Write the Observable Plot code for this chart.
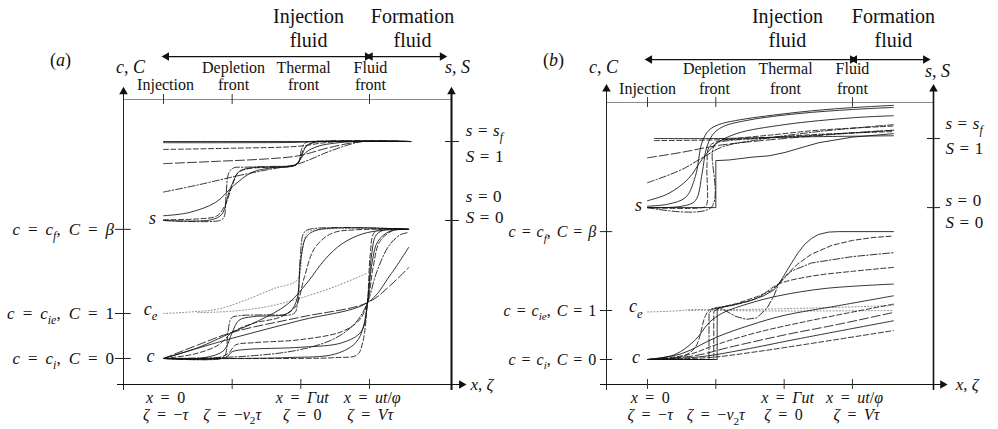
<!DOCTYPE html>
<html><head><meta charset="utf-8">
<script src="https://cdn.jsdelivr.net/npm/d3@7"></script>
<script src="https://cdn.jsdelivr.net/npm/@observablehq/plot@0.6"></script>
<style>
body{margin:0;background:#fff;}
#wrap{display:flex;width:998px;height:429px;overflow:visible;background:#fff;}
#wrap svg{overflow:visible;}
#wrap svg text, #wrap svg tspan{font-family:"Liberation Serif","Times New Roman","DejaVu Serif",serif !important;}
</style></head><body><div id="wrap"></div>
<script>
// ---------- data : panel (a) ----------
// x in units where 0 = injection point, 1 = depletion front, 2 = thermal front, 3 = fluid front
// s curves: S (0..1) ; c curves: C (0 .. beta)
const betaA = 2.87;
const sa1 = [[0,0],[0.82,0],[0.88,0.04],[0.91,0.3],[0.95,0.6],[1.02,0.665],[1.2,0.675],[1.6,0.685],[1.92,0.70],[1.97,0.74],[2.01,0.9],[2.06,0.98],[2.14,1.0],[3.6,1.0]];
const sa2 = [[0,0.01],[0.5,0.02],[0.78,0.06],[0.9,0.2],[1.0,0.44],[1.08,0.6],[1.2,0.65],[1.5,0.675],[1.92,0.70],[1.98,0.76],[2.04,0.9],[2.12,0.97],[2.3,1.0],[3.6,1.0]];
const sa3 = [[0,0.06],[0.37,0.1],[0.76,0.23],[1.02,0.44],[1.29,0.61],[1.6,0.67],[1.92,0.705],[2.07,0.86],[2.25,0.94],[2.5,0.98],[2.8,1.0],[3.6,1.0]];
const sa4 = [[0,0.36],[0.5,0.45],[1.05,0.56],[1.5,0.64],[1.97,0.72],[2.4,0.87],[2.7,0.96],[2.9,1.0],[3.6,1.0]];
const sa5 = [[0,0.72],[0.8,0.75],[1.5,0.78],[1.97,0.82],[2.4,0.92],[2.89,1.0],[3.6,1.0]];
const sa6 = [[0,0.90],[1.0,0.915],[1.97,0.94],[2.3,0.98],[2.6,1.0],[3.6,1.0]];
const sa7 = [[0,0.985],[1.0,0.985],[1.97,0.99],[2.2,1.0],[3.6,1.0]];
const sa8 = [[0,1.0],[3.6,1.0]];
const sa9 = [[0,0],[0.7,0.01],[0.85,0.08],[0.95,0.35],[1.02,0.5],[1.1,0.62],[1.3,0.67],[1.92,0.70],[2.0,0.8],[2.08,0.94],[2.2,0.99],[2.4,1.0],[3.6,1.0]];
const sCurvesA = [sa1, sa2, sa3, sa4, sa5, sa6, sa7, sa8, sa9];
const sStylesA = ["dashdot","dash","solid","dashdot","long","dash","solid","solid","solid"];

const ca1 = [[0,0],[0.84,0],[0.9,0.08],[0.94,0.6],[0.99,0.9],[1.1,0.95],[1.5,0.97],[1.9,1.0],[1.95,1.2],[1.99,2.2],[2.04,2.78],[2.12,2.87],[3.57,2.87]];
const ca2 = [[0,0],[0.6,0.02],[0.88,0.18],[1.0,0.58],[1.1,0.85],[1.3,0.93],[1.8,1.0],[1.93,1.25],[2.0,2.2],[2.08,2.7],[2.25,2.86],[3.57,2.87]];
const ca3 = [[0,0],[0.45,0.1],[0.8,0.3],[1.0,0.58],[1.3,0.78],[1.7,0.92],[1.92,1.15],[2.05,1.8],[2.2,2.45],[2.45,2.78],[2.8,2.86],[3.57,2.87]];
const ca4 = [[0,0],[0.5,0.24],[1.0,0.58],[1.4,0.85],[1.8,1.2],[2.1,1.7],[2.35,2.2],[2.6,2.55],[2.9,2.77],[3.2,2.85],[3.57,2.87]];
const cf1 = [[0,0],[1.5,0],[2.5,0.02],[2.82,0.08],[2.9,0.35],[2.97,1.24],[3.01,2.3],[3.06,2.78],[3.15,2.87],[3.57,2.87]];
const cf2 = [[0,0],[1.8,0.02],[2.5,0.1],[2.8,0.35],[2.91,0.7],[2.97,1.24],[3.04,2.15],[3.12,2.6],[3.3,2.83],[3.57,2.87]];
const cf3 = [[0,0],[1.2,0.05],[2.0,0.2],[2.5,0.45],[2.8,0.8],[2.97,1.24],[3.1,1.9],[3.28,2.5],[3.45,2.75],[3.57,2.8]];
const cf4 = [[0,0],[1.0,0.45],[2.0,0.85],[2.97,1.24],[3.3,1.85],[3.57,2.47]];
const cf5 = [[0,0],[0.5,0.3],[1.0,0.58],[2.0,0.92],[2.97,1.24],[3.3,1.62],[3.57,2.02]];
const cd1 = [[0,0],[0.8,0.02],[0.95,0.12],[1.05,0.3],[1.3,0.35],[2.0,0.42],[2.6,0.6],[2.85,0.85],[2.97,1.24],[3.05,2.0],[3.15,2.6],[3.35,2.85],[3.57,2.87]];
const cd2 = [[0,0],[0.9,0.02],[1.0,0.15],[1.2,0.2],[2.0,0.25],[2.6,0.35],[2.88,0.6],[2.97,1.24],[3.03,2.3],[3.1,2.75],[3.25,2.87],[3.57,2.87]];
const cCurvesA = [ca1, ca2, ca3, ca4, cf1, cf2, cf3, cf4, cf5, cd1, cd2];
const cStylesA = ["dashdot","solid","dash","solid","dash","solid","dashdot","solid","long","dash","solid"];
const ceA1 = [[0,1.0],[0.45,1.04],[0.8,1.1],[1.2,1.3],[1.6,1.55],[1.95,1.75],[2.02,2.4],[2.1,2.8],[2.3,2.87],[3.57,2.87]];
const ceA2 = [[0.5,1.02],[1.0,1.05],[1.5,1.15],[1.9,1.3],[2.5,1.6],[2.97,1.9]];
const ceCurvesA = [ceA1, ceA2];

// ---------- data : panel (b) ----------
const betaB = 2.61;
const sb1 = [[0,0],[1.0,0],[1.0,0.68],[1.2,0.69],[1.53,0.73],[1.78,0.75],[2.02,0.8],[2.26,0.87],[2.51,0.94],[3.0,1.02],[3.6,1.07]];
const sb2 = [[0,0],[0.8,0],[0.86,0.03],[0.87,0.6],[0.9,0.88],[1.0,0.95],[1.3,1.0],[1.8,1.05],[2.5,1.12],[3.6,1.18]];
const sb3 = [[0,0],[0.93,0],[0.95,0.8],[1.0,0.93],[1.2,0.97],[2.0,1.02],[3.6,1.12]];
const sb4 = [[0,0],[0.5,0.02],[0.7,0.1],[0.8,0.5],[0.86,0.85],[0.95,1.05],[1.1,1.17],[1.5,1.27],[2.2,1.36],[3.0,1.42],[3.6,1.45]];
const sb5 = [[0,0.02],[0.3,0.05],[0.56,0.15],[0.7,0.45],[0.8,0.95],[0.9,1.12],[1.04,1.2],[1.29,1.26],[2.02,1.36],[2.75,1.43],[3.6,1.48]];
const sb6 = [[0,0.1],[0.3,0.2],[0.6,0.42],[0.8,0.7],[1.0,0.92],[1.3,1.07],[2.0,1.2],[3.0,1.3],[3.6,1.33]];
const sb7 = [[0,0.36],[0.5,0.55],[0.85,0.75],[1.1,0.88],[1.6,0.98],[2.5,1.1],[3.6,1.2]];
const sb8 = [[0,0.72],[0.5,0.8],[1.04,0.9],[2.0,1.0],[3.0,1.08],[3.6,1.12]];
const sb9 = [[0.1,0.97],[1.0,0.98],[1.5,1.0],[2.5,1.06],[3.6,1.1]];
const sb10 = [[0.1,1.0],[1.04,1.0],[2.0,1.02],[3.6,1.04]];
const sCurvesB = [sb1, sb2, sb3, sb4, sb5, sb6, sb7, sb8, sb9, sb10];
const sStylesB = ["solid","dash","dashdot","solid","solid","solid","dashdot","long","dash","solid"];
const sLinearB = [true, false, false, false, false, false, false, false, false, false];

const cb1 = [[0,0],[1.02,0],[1.02,1.04],[1.15,1.08],[1.29,1.12],[1.5,1.2],[1.7,1.3],[1.85,1.42],[1.92,1.54],[2.0,1.72],[2.1,1.95],[2.2,2.17],[2.3,2.35],[2.4,2.47],[2.5,2.55],[2.65,2.6],[2.8,2.61],[3.6,2.61]];
const cb2 = [[0,0],[0.97,0],[0.97,0.98],[1.05,1.06],[1.3,1.14],[1.6,1.28],[1.8,1.4],[1.92,1.54],[2.05,1.75],[2.2,1.95],[2.4,2.15],[2.7,2.33],[3.0,2.43],[3.3,2.49],[3.6,2.52]];
const cb3 = [[0,0],[0.9,0],[0.9,0.95],[0.97,1.04],[1.1,1.03],[1.29,0.88],[1.45,0.82],[1.6,0.85],[1.75,1.05],[1.85,1.3],[1.92,1.54],[2.1,1.8],[2.4,1.97],[3.0,2.1],[3.6,2.18]];
const cb4 = [[0,0],[0.5,0.06],[0.7,0.25],[0.85,0.9],[0.92,1.02],[1.2,1.1],[1.6,1.25],[1.92,1.54],[2.4,1.7],[3.0,1.8],[3.6,1.88]];
const cb5 = [[0,0],[0.4,0.1],[0.7,0.4],[0.9,0.75],[1.1,0.95],[1.5,1.15],[1.92,1.3],[2.6,1.45],[3.6,1.54]];
const cb6 = [[0,0],[0.5,0.12],[1.0,0.45],[1.5,0.7],[2.0,0.9],[2.8,1.1],[3.6,1.30]];
const cb7 = [[0,0],[0.6,0.1],[1.0,0.3],[1.6,0.55],[2.4,0.8],[3.6,1.13]];
const cb8 = [[0,0],[0.7,0.08],[1.2,0.25],[2.0,0.5],[2.8,0.72],[3.6,0.96]];
const cb9 = [[0,0],[0.8,0.06],[1.4,0.2],[2.2,0.42],[3.6,0.79]];
const cb10 = [[0,0],[0.9,0.04],[1.6,0.16],[2.5,0.35],[3.6,0.59]];
const cCurvesB = [cb1, cb2, cb3, cb4, cb5, cb6, cb7, cb8, cb9, cb10];
const cStylesB = ["solid","dash","dashdot","dash","solid","solid","dash","long","solid","dash"];
const cLinearB = [true, true, true, false, false, false, false, false, false, false];
const ceB1 = [[0,0.97],[0.4,0.99],[0.68,1.02],[1.2,1.0],[2.0,0.99],[3.6,1.0]];
const ceB2 = [[0.6,1.0],[1.4,1.02],[2.4,1.05],[3.6,1.1]];
const ceCurvesB = [ceB1, ceB2];

// ---------- labels ----------
const frontTopA = ["Injection","Depletion","front","Thermal","front","Fluid","front"];
const bottomRow1 = ["x = 0","x = Γut","x = ut/φ"];
const bottomRow2 = ["ζ = −τ","ζ = −v_2τ","ζ = 0","ζ = Vτ"];
const leftLabels = ["c = c_f, C = β","c = c_{ie}, C = 1","c = c_i, C = 0"];
const rightLabels = ["s = s_f","S = 1","s = 0","S = 0"];

const DASH = {solid: null, dash: "5,2.5", long: "9,3", dashdot: "7,2,1.5,2", dot: "1,2.2"};
const FONT = "'Liberation Serif', 'Times New Roman', serif";

function buildPanel(P) {
  const ys = d => P.sZero + d[1] * (P.sOne - P.sZero);
  const yc = d => d[1];
  const m = [];
  // frame
  m.push(Plot.ruleY([P.yTop], {x1: P.xL, x2: P.xR, stroke: "#8c8c8c", strokeWidth: 1.2}));
  m.push(Plot.ruleX([P.xL], {y1: P.yBot, y2: P.yTip, stroke: "#222", strokeWidth: 1}));
  m.push(Plot.ruleX([P.xR], {y1: P.yBot, y2: P.yTip, stroke: "#111", strokeWidth: P.rightW}));
  m.push(Plot.ruleY([P.yAx], {x1: P.xAx0, x2: P.xAx1, stroke: "#111", strokeWidth: 1.1}));
  m.push(Plot.ruleX(P.topTicks, {y1: P.yTop - P.tk, y2: P.yTop + P.tk, stroke: "#333", strokeWidth: 1}));
  m.push(Plot.ruleX(P.botTicks, {y1: P.yAx - P.tk, y2: P.yAx + P.tk, stroke: "#333", strokeWidth: 1}));
  // level ticks
  m.push(Plot.ruleY([P.beta, 1, 0], {x1: P.xLt0, x2: P.xLt1, stroke: "#222"}));
  m.push(Plot.ruleY([P.sOne, P.sZero], {x1: P.xRt0, x2: P.xRt1, stroke: "#222"}));
  // arrows
  m.push(Plot.ruleY([P.yArr], {x1: P.arr[0], x2: P.arr[1], stroke: "#111", strokeWidth: 1.3}));
  m.push(Plot.ruleY([P.yArr], {x1: P.arr[2], x2: P.arr[3], stroke: "#111", strokeWidth: 1.3}));
  m.push(Plot.dot([[P.arr[0], P.yArr], [P.arr[2], P.yArr]], {x: d => d[0], y: d => d[1], symbol: "triangle", r: 3.2, fill: "#111", rotate: -90}));
  m.push(Plot.dot([[P.arr[1], P.yArr], [P.arr[3], P.yArr]], {x: d => d[0], y: d => d[1], symbol: "triangle", r: 3.2, fill: "#111", rotate: 90}));
  m.push(Plot.dot([[P.xL, P.yTip], [P.xR, P.yTip]], {x: d => d[0], y: d => d[1], symbol: "triangle", r: 3.2, fill: "#111"}));
  m.push(Plot.dot([[P.xAx1, P.yAx]], {x: d => d[0], y: d => d[1], symbol: "triangle", r: 3.2, fill: "#111", rotate: 90}));
  // curves
  P.ce.forEach(c => m.push(Plot.line(c, {x: d => d[0], y: yc, stroke: "#777", strokeWidth: 0.9, strokeDasharray: DASH.dot, curve: "catmull-rom"})));
  P.s.forEach((c, i) => m.push(Plot.line(c, {x: d => d[0], y: ys, stroke: "#111", strokeWidth: 0.85, strokeDasharray: DASH[P.sSt[i]], curve: (P.sLin && P.sLin[i]) ? "linear" : "catmull-rom"})));
  P.c.forEach((c, i) => m.push(Plot.line(c, {x: d => d[0], y: yc, stroke: "#111", strokeWidth: 0.85, strokeDasharray: DASH[P.cSt[i]], curve: (P.cLin && P.cLin[i]) ? "linear" : "catmull-rom"})));
  // text
  const T = (data, o) => Plot.text(data, {x: "x", y: "y", text: "t", fill: "#111", fontFamily: FONT, ...o});
  m.push(T(P.bigLab, {fontSize: 20}));
  m.push(T(P.frontLab, {fontSize: 16}));
  m.push(T(P.axLab, {fontSize: 18}));
  m.push(T(P.leftLab, {fontSize: P.leftFs, textAnchor: "end"}));
  m.push(T(P.rightLab, {fontSize: 17, textAnchor: "start"}));
  m.push(T(P.curveLab, {fontSize: 18}));
  m.push(T(P.botLab, {fontSize: 16}));
  m.push(T(P.xLab, {fontSize: 17, textAnchor: "start"}));
  return Plot.plot({
    width: 499, height: 429,
    marginLeft: P.mL, marginRight: P.mR, marginTop: P.mT, marginBottom: P.mB,
    x: {domain: [P.xL, P.xR], axis: null},
    y: {domain: [P.yAx, P.yTop], axis: null},
    style: {background: "transparent", overflow: "visible", fontFamily: FONT},
    marks: m
  });
}

// panel (a) geometry in data units
const PA = {
  mL: 123, mR: 48, mT: 99, mB: 45, leftFs: 17, leftWs: "0.22em",
  xL: -0.5825, xR: 4.194, yAx: -0.578, yTop: 5.756, yBot: -0.711, yTip: 5.93,
  xAx0: -0.67, xAx1: 4.34, rightW: 2, tk: 0.11,
  topTicks: [0, 1, 3], botTicks: [1, 2, 3],
  beta: betaA, sZero: 3.067, sOne: 4.822,
  xLt0: -0.70, xLt1: -0.47, xRt0: 4.107, xRt1: 4.31,
  yArr: 6.711, arr: [0.044, 2.97, 3.01, 4.06],
  s: sCurvesA, sSt: sStylesA, c: cCurvesA, cSt: cStylesA, ce: ceCurvesA,
  bigLab: [{t: "Injection", x: 2.112, y: 7.60}, {t: "fluid", x: 2.112, y: 7.067}, {t: "Formation", x: 3.626, y: 7.60}, {t: "fluid", x: 3.626, y: 7.067}],
  frontLab: [{t: frontTopA[0], x: 0.03, y: 6.07}, {t: frontTopA[1], x: 1.02, y: 6.46}, {t: frontTopA[2], x: 1.02, y: 6.07}, {t: frontTopA[3], x: 2.04, y: 6.46}, {t: frontTopA[4], x: 2.04, y: 6.07}, {t: frontTopA[5], x: 3.014, y: 6.46}, {t: frontTopA[6], x: 3.014, y: 6.07}],
  axLab: [{t: "(a)", x: -1.50, y: 6.62}, {t: "c, C", x: -0.48, y: 6.47}, {t: "s, S", x: 4.28, y: 6.47}],
  leftLab: [{t: leftLabels[0], x: -0.72, y: betaA}, {t: leftLabels[1], x: -0.72, y: 1}, {t: leftLabels[2], x: -0.72, y: 0}],
  rightLab: [{t: rightLabels[0], x: 4.40, y: 5.067}, {t: rightLabels[1], x: 4.40, y: 4.49}, {t: rightLabels[2], x: 4.40, y: 3.60}, {t: rightLabels[3], x: 4.40, y: 3.14}],
  curveLab: [{t: "s", x: -0.16, y: 3.12}, {t: "c_e", x: -0.19, y: 1.1}, {t: "c", x: -0.19, y: 0.04}],
  botLab: [{t: bottomRow1[0], x: 0.03, y: -0.867}, {t: bottomRow1[1], x: 2.02, y: -0.867}, {t: bottomRow1[2], x: 3.04, y: -0.867},
           {t: bottomRow2[0], x: 0.03, y: -1.244}, {t: bottomRow2[1], x: 1.0, y: -1.244}, {t: bottomRow2[2], x: 2.02, y: -1.244}, {t: bottomRow2[3], x: 3.01, y: -1.244}],
  xLab: [{t: "x, ζ", x: 4.47, y: -0.578}]
};

const PB = {
  mL: 107, mR: 65, mT: 102, mB: 45, leftFs: 16, leftWs: "0.12em",
  xL: -0.600, xR: 4.186, yAx: -0.510, yTop: 5.245, yBot: -0.633, yTip: 5.52,
  xAx0: -0.688, xAx1: 4.32, rightW: 1.6, tk: 0.1,
  topTicks: [0, 1, 3], botTicks: [0, 1, 2, 3],
  beta: betaB, sZero: 3.10, sOne: 4.51,
  xLt0: -0.69, xLt1: -0.51, xRt0: 4.098, xRt1: 4.288,
  yArr: 6.122, arr: [0.03, 3.0, 3.03, 4.07],
  s: sCurvesB, sSt: sStylesB, sLin: sLinearB, c: cCurvesB, cSt: cStylesB, cLin: cLinearB, ce: ceCurvesB,
  bigLab: [{t: "Injection", x: 2.049, y: 7.00}, {t: "fluid", x: 2.049, y: 6.51}, {t: "Formation", x: 3.60, y: 7.00}, {t: "fluid", x: 3.60, y: 6.51}],
  frontLab: [{t: frontTopA[0], x: 0.0, y: 5.53}, {t: frontTopA[1], x: 0.98, y: 5.93}, {t: frontTopA[2], x: 0.98, y: 5.53}, {t: frontTopA[3], x: 2.02, y: 5.93}, {t: frontTopA[4], x: 2.02, y: 5.53}, {t: frontTopA[5], x: 3.0, y: 5.93}, {t: frontTopA[6], x: 3.0, y: 5.53}],
  axLab: [{t: "(b)", x: -1.376, y: 6.10}, {t: "c, C", x: -0.644, y: 5.96}, {t: "s, S", x: 4.244, y: 5.88}],
  leftLab: [{t: leftLabels[0], x: -0.75, y: betaB}, {t: leftLabels[1], x: -0.75, y: 1}, {t: leftLabels[2], x: -0.75, y: 0}],
  rightLab: [{t: rightLabels[0], x: 4.36, y: 4.816}, {t: rightLabels[1], x: 4.36, y: 4.30}, {t: rightLabels[2], x: 4.36, y: 3.245}, {t: rightLabels[3], x: 4.36, y: 2.80}],
  curveLab: [{t: "s", x: -0.13, y: 3.14}, {t: "c_e", x: -0.17, y: 1.08}, {t: "c", x: -0.17, y: 0.04}],
  botLab: [{t: bottomRow1[0], x: 0.04, y: -0.776}, {t: bottomRow1[1], x: 2.05, y: -0.776}, {t: bottomRow1[2], x: 3.03, y: -0.776},
           {t: bottomRow2[0], x: 0.04, y: -1.13}, {t: bottomRow2[1], x: 1.0, y: -1.13}, {t: bottomRow2[2], x: 1.99, y: -1.13}, {t: bottomRow2[3], x: 3.06, y: -1.13}],
  xLab: [{t: "x, ζ", x: 4.51, y: -0.51}]
};

// rich text: short letter-words italic, _x / _{xy} subscripts
const LET = "A-Za-z\u0391-\u03A9\u03B1-\u03C9\u03D5";
function richify(root, P) {
  root.querySelectorAll("text").forEach(t => {
    if (t.querySelector("tspan")) return;
    const s = t.textContent;
    if (!s) return;
    const fs = parseFloat(getComputedStyle(t).fontSize) || 16;
    const shift = fs * 0.3;
    t.textContent = "";
    const re = new RegExp("_\\{([^}]*)\\}|_(.)|([" + LET + "]+)|([^_" + LET + "]+)", "g");
    let mm, shifted = false;
    while ((mm = re.exec(s))) {
      const ts = document.createElementNS("http://www.w3.org/2000/svg", "tspan");
      const sub = mm[1] !== undefined ? mm[1] : mm[2];
      if (sub !== undefined) {
        ts.textContent = sub;
        ts.setAttribute("font-size", (fs * 0.7).toFixed(1));
        if (/[A-Za-z]/.test(sub)) ts.setAttribute("font-style", "italic");
        if (!shifted) { ts.setAttribute("dy", shift); shifted = true; }
      } else {
        const txt = mm[3] !== undefined ? mm[3] : mm[4];
        ts.textContent = txt;
        if (mm[3] !== undefined && mm[3].length <= 3) ts.setAttribute("font-style", "italic");
        if (shifted) { ts.setAttribute("dy", -shift); shifted = false; }
      }
      t.appendChild(ts);
    }
    if (/^[sS] =/.test(s)) t.style.wordSpacing = "0.08em";
    else if (/^c = c/.test(s)) t.style.wordSpacing = P.leftWs;
    else if (s.includes("=")) t.style.wordSpacing = "0.22em";
    t.style.whiteSpace = "pre";
  });
}

const wrap = document.getElementById("wrap");
[PA, PB].forEach(P => {
  const chart = buildPanel(P);
  wrap.appendChild(chart);
  richify(chart, P);
});
</script></body></html>
